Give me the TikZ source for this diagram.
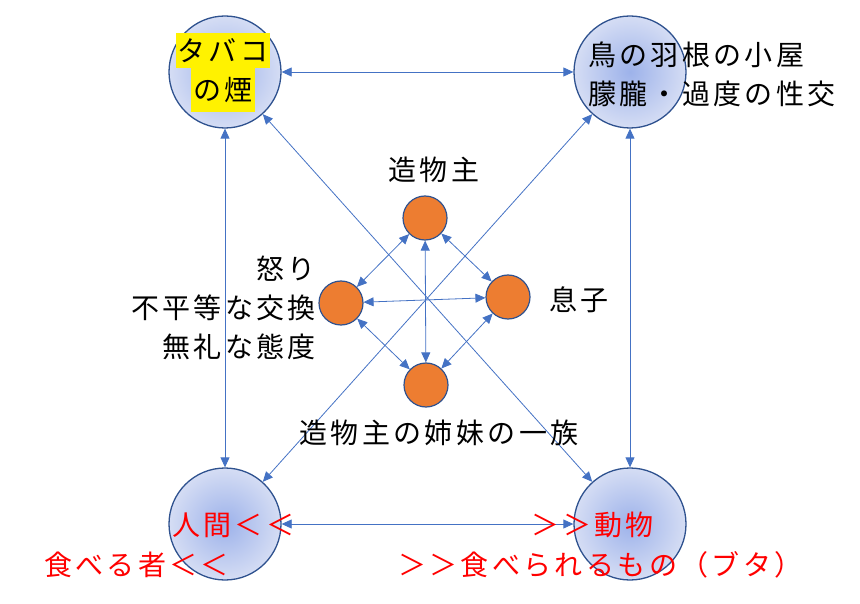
\documentclass[tikz,border=0pt]{standalone}
\usepackage{fontspec}
\setmainfont{Noto Sans CJK JP}[LetterSpace=12]
\usetikzlibrary{arrows.meta}
\definecolor{lineblue}{HTML}{4472C4}
\definecolor{rimblue}{HTML}{2F528F}
\definecolor{fireorange}{HTML}{ED7D31}
\definecolor{glowin}{HTML}{9DB2EA}
\definecolor{glowout}{HTML}{D5DDF4}
\definecolor{hotred}{HTML}{FF0000}
\begin{document}
\begin{tikzpicture}[x=1pt,y=-1pt,
world/.style={circle,draw=rimblue,line width=1.3pt,minimum size=112pt,inner sep=0pt,inner color=glowin,outer color=glowout},
spirit/.style={circle,draw=rimblue,line width=1.2pt,fill=fireorange,minimum size=44pt,inner sep=0pt},
duo/.style={color=lineblue,line width=0.8pt,{Triangle[length=10pt,width=9pt]}-{Triangle[length=10pt,width=9pt]}},
say/.style={font=\fontsize{28}{39}\selectfont,inner sep=0pt},
shout/.style={say,text=hotred},
glow/.style={say,fill=yellow,inner xsep=2pt}]
\useasboundingbox (0,0) rectangle (860,604);
\node[world](tl) at (225, 72) {};
\node[world](tr) at (630, 72) {};
\node[world](bl) at (225, 524) {};
\node[world](br) at (630, 524) {};
\node[spirit](god) at (425, 218) {};
\node[spirit](ire) at (341, 303) {};
\node[spirit](son) at (508, 297) {};
\node[spirit](kin) at (426, 385) {};
\path[duo]
(tl) edge (tr)
(tl) edge (bl)
(tr) edge (br)
(bl) edge (br)
(tl) edge (br)
(tr) edge (bl)
(god) edge (ire)
(god) edge (son)
(ire) edge (kin)
(son) edge (kin)
(ire) edge (son)
(god) edge (kin);
\node[glow,minimum height=35pt](smoke) at (223, 50.5) {タバコ};
\node[glow,minimum height=44pt](smoketail) at (223, 90) {の煙};
\node[say,anchor=west,align=left](hut) at (588, 74) {鳥の羽根の小屋\\朦朧・過度の性交};
\node[say](godname) at (434, 170) {造物主};
\node[say](sonname) at (579, 300) {息子};
\node[say,anchor=east,align=right](irename) at (316, 308) {怒り\\不平等な交換\\無礼な態度};
\node[say](kinname) at (439, 433) {造物主の姉妹の一族};
\node[shout,anchor=west](man) at (172, 525) {人間＜＜};
\node[shout,anchor=west](eater) at (44, 565) {食べる者＜＜};
\node[shout,anchor=east](beast) at (654, 525) {＞＞動物};
\node[shout,anchor=west](eaten) at (398, 565) {＞＞食べられるもの（ブタ）};
\end{tikzpicture}
\end{document}
